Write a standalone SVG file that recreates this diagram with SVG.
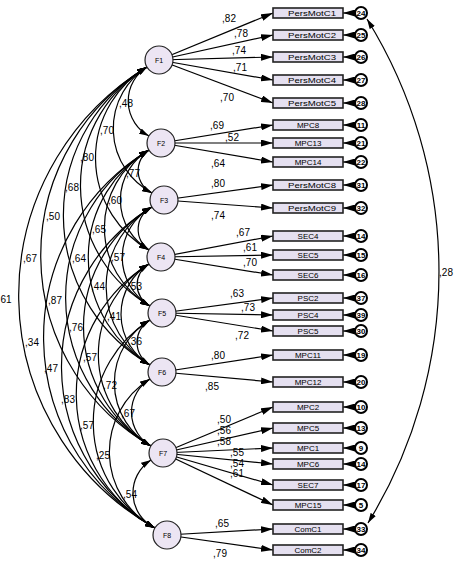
<svg xmlns="http://www.w3.org/2000/svg" width="459" height="562" viewBox="0 0 459 562">
<style>
.ln{stroke:#000;stroke-width:1.2;fill:none}
.ld{marker-end:url(#ah)}
.cv{marker-start:url(#ah2);marker-end:url(#ah2)}
.fac{fill:#ECE5F3;stroke:#222;stroke-width:1.2}
.box{fill:#E5E0F0;stroke:#222;stroke-width:1.6}
.err{fill:#fff;stroke:#000;stroke-width:2}
.t{font-family:"Liberation Sans",Arial,sans-serif;fill:#000}
.v{font-size:10px;text-anchor:middle}
.bt{font-size:8px;text-anchor:middle}
.ft{font-size:7px;text-anchor:middle}
.et{font-size:8px;font-weight:bold;text-anchor:middle}
</style>
<defs>
<marker id="ah" viewBox="0 0 12 7" refX="12" refY="3.5" markerWidth="12" markerHeight="7" markerUnits="userSpaceOnUse" orient="auto"><path d="M0,0 L12,3.5 L0,7 z" fill="#000"/></marker>
<marker id="ah2" viewBox="0 0 10 6" refX="10" refY="3" markerWidth="10" markerHeight="6" markerUnits="userSpaceOnUse" orient="auto-start-reverse"><path d="M0,0 L10,3 L0,6 z" fill="#000"/></marker>
</defs>
<g id="connectors">
<g class="ln ld">
<line x1="159" y1="60" x2="273" y2="13"/>
<line x1="159" y1="60" x2="273" y2="35"/>
<line x1="159" y1="60" x2="273" y2="57"/>
<line x1="159" y1="60" x2="273" y2="80"/>
<line x1="159" y1="60" x2="273" y2="103"/>
<line x1="161" y1="143" x2="273" y2="125"/>
<line x1="161" y1="143" x2="273" y2="143"/>
<line x1="161" y1="143" x2="273" y2="162"/>
<line x1="164" y1="200" x2="273" y2="185"/>
<line x1="164" y1="200" x2="273" y2="208"/>
<line x1="161" y1="257" x2="273" y2="236"/>
<line x1="161" y1="257" x2="273" y2="255"/>
<line x1="161" y1="257" x2="273" y2="275"/>
<line x1="162" y1="313" x2="273" y2="298"/>
<line x1="162" y1="313" x2="273" y2="315"/>
<line x1="162" y1="313" x2="273" y2="331"/>
<line x1="162" y1="372" x2="273" y2="355"/>
<line x1="162" y1="372" x2="273" y2="382"/>
<line x1="163" y1="453" x2="273" y2="407"/>
<line x1="163" y1="453" x2="273" y2="428"/>
<line x1="163" y1="453" x2="273" y2="448"/>
<line x1="163" y1="453" x2="273" y2="464"/>
<line x1="163" y1="453" x2="273" y2="485"/>
<line x1="163" y1="453" x2="273" y2="505"/>
<line x1="167" y1="535" x2="273" y2="529"/>
<line x1="167" y1="535" x2="273" y2="550"/>
</g>
<g class="ln ld">
<line x1="355" y1="13" x2="343" y2="13"/>
<line x1="355" y1="35" x2="343" y2="35"/>
<line x1="355" y1="57" x2="343" y2="57"/>
<line x1="355" y1="80" x2="343" y2="80"/>
<line x1="355" y1="103" x2="343" y2="103"/>
<line x1="355" y1="125" x2="343" y2="125"/>
<line x1="355" y1="143" x2="343" y2="143"/>
<line x1="355" y1="162" x2="343" y2="162"/>
<line x1="355" y1="185" x2="343" y2="185"/>
<line x1="355" y1="208" x2="343" y2="208"/>
<line x1="355" y1="236" x2="343" y2="236"/>
<line x1="355" y1="255" x2="343" y2="255"/>
<line x1="355" y1="275" x2="343" y2="275"/>
<line x1="355" y1="298" x2="343" y2="298"/>
<line x1="355" y1="315" x2="343" y2="315"/>
<line x1="355" y1="331" x2="343" y2="331"/>
<line x1="355" y1="355" x2="343" y2="355"/>
<line x1="355" y1="382" x2="343" y2="382"/>
<line x1="355" y1="407" x2="343" y2="407"/>
<line x1="355" y1="428" x2="343" y2="428"/>
<line x1="355" y1="448" x2="343" y2="448"/>
<line x1="355" y1="464" x2="343" y2="464"/>
<line x1="355" y1="485" x2="343" y2="485"/>
<line x1="355" y1="505" x2="343" y2="505"/>
<line x1="355" y1="529" x2="343" y2="529"/>
<line x1="355" y1="550" x2="343" y2="550"/>
</g>
<g class="ln cv">
<path d="M147 67 A40 40 0 0 0 149 136"/>
<path d="M147 67 A73 73 0 0 0 152 193"/>
<path d="M147 67 A106 106 0 0 0 149 250"/>
<path d="M147 67 A139 139 0 0 0 150 306"/>
<path d="M147 67 A173 173 0 0 0 150 365"/>
<path d="M147 67 A220 220 0 0 0 151 446"/>
<path d="M147 67 A267 267 0 0 0 155 528"/>
<path d="M149 150 A25 25 0 0 0 152 193"/>
<path d="M149 150 A58 58 0 0 0 149 250"/>
<path d="M149 150 A90 90 0 0 0 150 306"/>
<path d="M149 150 A125 125 0 0 0 150 365"/>
<path d="M149 150 A172 172 0 0 0 151 446"/>
<path d="M149 150 A219 219 0 0 0 155 528"/>
<path d="M152 207 A25 25 0 0 0 149 250"/>
<path d="M152 207 A57 57 0 0 0 150 306"/>
<path d="M152 207 A92 92 0 0 0 150 365"/>
<path d="M152 207 A139 139 0 0 0 151 446"/>
<path d="M152 207 A186 186 0 0 0 155 528"/>
<path d="M149 264 A24 24 0 0 0 150 306"/>
<path d="M149 264 A59 59 0 0 0 150 365"/>
<path d="M149 264 A106 106 0 0 0 151 446"/>
<path d="M149 264 A153 153 0 0 0 155 528"/>
<path d="M150 320 A26 26 0 0 0 150 365"/>
<path d="M150 320 A73 73 0 0 0 151 446"/>
<path d="M150 320 A121 121 0 0 0 155 528"/>
<path d="M150 379 A39 39 0 0 0 151 446"/>
<path d="M150 379 A86 86 0 0 0 155 528"/>
<path d="M151 460 A39 39 0 0 0 155 528"/>
<path d="M367 19 A480 480 0 0 1 368 523"/>
</g>
</g>
<g id="labels" class="t v">
<text x="229" y="22">,82</text>
<text x="241" y="37">,78</text>
<text x="239" y="54">,74</text>
<text x="240" y="71">,71</text>
<text x="227" y="101">,70</text>
<text x="217" y="129">,69</text>
<text x="232" y="141">,52</text>
<text x="218" y="167">,64</text>
<text x="218" y="187">,80</text>
<text x="218" y="219">,74</text>
<text x="243" y="236">,67</text>
<text x="250" y="251">,61</text>
<text x="250" y="266">,70</text>
<text x="237" y="297">,63</text>
<text x="248" y="311">,73</text>
<text x="242" y="339">,72</text>
<text x="218" y="359">,80</text>
<text x="212" y="390">,85</text>
<text x="224" y="423">,50</text>
<text x="224" y="434">,56</text>
<text x="224" y="445">,58</text>
<text x="237" y="456">,55</text>
<text x="237" y="467">,54</text>
<text x="237" y="477">,61</text>
<text x="222" y="527">,65</text>
<text x="220" y="557">,79</text>
<text x="126" y="107">,48</text>
<text x="107" y="134">,70</text>
<text x="87" y="161">,80</text>
<text x="72" y="191">,68</text>
<text x="53" y="220">,50</text>
<text x="30" y="262">,67</text>
<text x="6" y="303">61</text>
<text x="133" y="177">,77</text>
<text x="115" y="204">,60</text>
<text x="99" y="233">,65</text>
<text x="79" y="262">,64</text>
<text x="55" y="304">,87</text>
<text x="32" y="346">,34</text>
<text x="118" y="261">,57</text>
<text x="98" y="290">,44</text>
<text x="76" y="331">,76</text>
<text x="51" y="372">,47</text>
<text x="135" y="290">,53</text>
<text x="114" y="320">,41</text>
<text x="90" y="361">,57</text>
<text x="68" y="403">,83</text>
<text x="135" y="345">,36</text>
<text x="110" y="389">,72</text>
<text x="87" y="429">,57</text>
<text x="128" y="417">,67</text>
<text x="103" y="459">,25</text>
<text x="130" y="498">,54</text>
<text x="446" y="276">,28</text>
</g>
<g id="factors">
<g id="F1"><circle class="fac" cx="159" cy="60" r="14"/><text class="t ft" x="159" y="62.5">F1</text></g>
<g id="F2"><circle class="fac" cx="161" cy="143" r="14"/><text class="t ft" x="161" y="145.5">F2</text></g>
<g id="F3"><circle class="fac" cx="164" cy="200" r="14"/><text class="t ft" x="164" y="202.5">F3</text></g>
<g id="F4"><circle class="fac" cx="161" cy="257" r="14"/><text class="t ft" x="161" y="259.5">F4</text></g>
<g id="F5"><circle class="fac" cx="162" cy="313" r="14"/><text class="t ft" x="162" y="315.5">F5</text></g>
<g id="F6"><circle class="fac" cx="162" cy="372" r="14"/><text class="t ft" x="162" y="374.5">F6</text></g>
<g id="F7"><circle class="fac" cx="163" cy="453" r="14"/><text class="t ft" x="163" y="455.5">F7</text></g>
<g id="F8"><circle class="fac" cx="167" cy="535" r="14"/><text class="t ft" x="167" y="537.5">F8</text></g>
</g>
<g id="indicators">
<g id="PersMotC1"><rect class="box" x="273" y="8" width="70" height="10"/><text class="t bt" x="312" y="15.7" textLength="48" lengthAdjust="spacingAndGlyphs">PersMotC1</text></g>
<g id="PersMotC2"><rect class="box" x="273" y="30" width="70" height="10"/><text class="t bt" x="312" y="37.7" textLength="48" lengthAdjust="spacingAndGlyphs">PersMotC2</text></g>
<g id="PersMotC3"><rect class="box" x="273" y="52" width="70" height="10"/><text class="t bt" x="312" y="59.7" textLength="48" lengthAdjust="spacingAndGlyphs">PersMotC3</text></g>
<g id="PersMotC4"><rect class="box" x="273" y="75" width="70" height="10"/><text class="t bt" x="312" y="82.7" textLength="48" lengthAdjust="spacingAndGlyphs">PersMotC4</text></g>
<g id="PersMotC5"><rect class="box" x="273" y="98" width="70" height="10"/><text class="t bt" x="312" y="105.7" textLength="48" lengthAdjust="spacingAndGlyphs">PersMotC5</text></g>
<g id="MPC8"><rect class="box" x="273" y="120" width="70" height="10"/><text class="t bt" x="308" y="127.7">MPC8</text></g>
<g id="MPC13"><rect class="box" x="273" y="138" width="70" height="10"/><text class="t bt" x="308" y="145.7">MPC13</text></g>
<g id="MPC14"><rect class="box" x="273" y="157" width="70" height="10"/><text class="t bt" x="308" y="164.7">MPC14</text></g>
<g id="PersMotC8"><rect class="box" x="273" y="180" width="70" height="10"/><text class="t bt" x="312" y="187.7" textLength="48" lengthAdjust="spacingAndGlyphs">PersMotC8</text></g>
<g id="PersMotC9"><rect class="box" x="273" y="203" width="70" height="10"/><text class="t bt" x="312" y="210.7" textLength="48" lengthAdjust="spacingAndGlyphs">PersMotC9</text></g>
<g id="SEC4"><rect class="box" x="273" y="231" width="70" height="10"/><text class="t bt" x="308" y="238.7">SEC4</text></g>
<g id="SEC5"><rect class="box" x="273" y="250" width="70" height="10"/><text class="t bt" x="308" y="257.7">SEC5</text></g>
<g id="SEC6"><rect class="box" x="273" y="270" width="70" height="10"/><text class="t bt" x="308" y="277.7">SEC6</text></g>
<g id="PSC2"><rect class="box" x="273" y="293" width="70" height="10"/><text class="t bt" x="308" y="300.7">PSC2</text></g>
<g id="PSC4"><rect class="box" x="273" y="310" width="70" height="10"/><text class="t bt" x="308" y="317.7">PSC4</text></g>
<g id="PSC5"><rect class="box" x="273" y="326" width="70" height="10"/><text class="t bt" x="308" y="333.7">PSC5</text></g>
<g id="MPC11"><rect class="box" x="273" y="350" width="70" height="10"/><text class="t bt" x="308" y="357.7">MPC11</text></g>
<g id="MPC12"><rect class="box" x="273" y="377" width="70" height="10"/><text class="t bt" x="308" y="384.7">MPC12</text></g>
<g id="MPC2"><rect class="box" x="273" y="402" width="70" height="10"/><text class="t bt" x="308" y="409.7">MPC2</text></g>
<g id="MPC5"><rect class="box" x="273" y="423" width="70" height="10"/><text class="t bt" x="308" y="430.7">MPC5</text></g>
<g id="MPC1"><rect class="box" x="273" y="443" width="70" height="10"/><text class="t bt" x="308" y="450.7">MPC1</text></g>
<g id="MPC6"><rect class="box" x="273" y="459" width="70" height="10"/><text class="t bt" x="308" y="466.7">MPC6</text></g>
<g id="SEC7"><rect class="box" x="273" y="480" width="70" height="10"/><text class="t bt" x="308" y="487.7">SEC7</text></g>
<g id="MPC15"><rect class="box" x="273" y="500" width="70" height="10"/><text class="t bt" x="308" y="507.7">MPC15</text></g>
<g id="ComC1"><rect class="box" x="273" y="524" width="70" height="10"/><text class="t bt" x="308" y="531.7">ComC1</text></g>
<g id="ComC2"><rect class="box" x="273" y="545" width="70" height="10"/><text class="t bt" x="308" y="552.7">ComC2</text></g>
</g>
<g id="errors">
<g id="e24"><circle class="err" cx="361" cy="13" r="6"/><text class="t et" x="361" y="16">24</text></g>
<g id="e25"><circle class="err" cx="361" cy="35" r="6"/><text class="t et" x="361" y="38">25</text></g>
<g id="e26"><circle class="err" cx="361" cy="57" r="6"/><text class="t et" x="361" y="60">26</text></g>
<g id="e27"><circle class="err" cx="361" cy="80" r="6"/><text class="t et" x="361" y="83">27</text></g>
<g id="e28"><circle class="err" cx="361" cy="103" r="6"/><text class="t et" x="361" y="106">28</text></g>
<g id="e11"><circle class="err" cx="361" cy="125" r="6"/><text class="t et" x="361" y="128">11</text></g>
<g id="e21"><circle class="err" cx="361" cy="143" r="6"/><text class="t et" x="361" y="146">21</text></g>
<g id="e22"><circle class="err" cx="361" cy="162" r="6"/><text class="t et" x="361" y="165">22</text></g>
<g id="e31"><circle class="err" cx="361" cy="185" r="6"/><text class="t et" x="361" y="188">31</text></g>
<g id="e32"><circle class="err" cx="361" cy="208" r="6"/><text class="t et" x="361" y="211">32</text></g>
<g id="e14"><circle class="err" cx="361" cy="236" r="6"/><text class="t et" x="361" y="239">14</text></g>
<g id="e15"><circle class="err" cx="361" cy="255" r="6"/><text class="t et" x="361" y="258">15</text></g>
<g id="e16"><circle class="err" cx="361" cy="275" r="6"/><text class="t et" x="361" y="278">16</text></g>
<g id="e37"><circle class="err" cx="361" cy="298" r="6"/><text class="t et" x="361" y="301">37</text></g>
<g id="e39"><circle class="err" cx="361" cy="315" r="6"/><text class="t et" x="361" y="318">39</text></g>
<g id="e30"><circle class="err" cx="361" cy="331" r="6"/><text class="t et" x="361" y="334">30</text></g>
<g id="e19"><circle class="err" cx="361" cy="355" r="6"/><text class="t et" x="361" y="358">19</text></g>
<g id="e20"><circle class="err" cx="361" cy="382" r="6"/><text class="t et" x="361" y="385">20</text></g>
<g id="e10"><circle class="err" cx="361" cy="407" r="6"/><text class="t et" x="361" y="410">10</text></g>
<g id="e13"><circle class="err" cx="361" cy="428" r="6"/><text class="t et" x="361" y="431">13</text></g>
<g id="e9"><circle class="err" cx="361" cy="448" r="6"/><text class="t et" x="361" y="451">9</text></g>
<g id="e14b"><circle class="err" cx="361" cy="464" r="6"/><text class="t et" x="361" y="467">14</text></g>
<g id="e17"><circle class="err" cx="361" cy="485" r="6"/><text class="t et" x="361" y="488">17</text></g>
<g id="e5"><circle class="err" cx="361" cy="505" r="6"/><text class="t et" x="361" y="508">5</text></g>
<g id="e33"><circle class="err" cx="361" cy="529" r="6"/><text class="t et" x="361" y="532">33</text></g>
<g id="e34"><circle class="err" cx="361" cy="550" r="6"/><text class="t et" x="361" y="553">34</text></g>
</g>
</svg>
